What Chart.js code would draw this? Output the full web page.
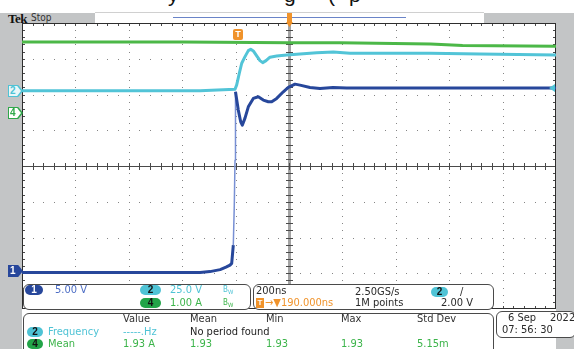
<!DOCTYPE html>
<html>
<head>
<meta charset="utf-8">
<script src="https://cdn.jsdelivr.net/npm/chart.js@4.4.1/dist/chart.umd.min.js"></script>
<style>
  body { margin: 0; background: #fff; }
  #scope { position: relative; width: 574px; height: 349px; overflow: hidden; background: #fff;
    font-family: "Liberation Sans Narrow", "DejaVu Sans Condensed", "Liberation Sans", sans-serif; font-size: 11px; color: #2a2a2a; }
  .abs { position: absolute; white-space: nowrap; line-height: 12px; }
  .panel { position: absolute; background: #c3c5c6; }
  .box { position: absolute; box-sizing: border-box; border: 1px solid #4a4a4a; border-radius: 6px; background: #fff; }
  .pill { position: absolute; height: 10px; border-radius: 5px; font: bold 10px "Liberation Sans", sans-serif;
    line-height: 10px; text-align: center; color: #111; }
  .bw { position: absolute; font-size: 8px; line-height: 8px; }
  .bw sub { font-size: 6px; vertical-align: -2px; }
  .mark { position: absolute; left: 8px; width: 15px; height: 12px; clip-path: polygon(0 0, 68% 0, 100% 50%, 68% 100%, 0 100%); }
  .mark .in { position: absolute; left: 1px; top: 1px; width: 12px; height: 10px; background: #fff;
    clip-path: polygon(0 0, 68% 0, 100% 50%, 68% 100%, 0 100%); font: bold 10px "Liberation Sans", sans-serif;
    line-height: 10px; padding-left: 1px; box-sizing: border-box; }
  .cap { position: absolute; top: -17px; font: 21px "Liberation Sans", sans-serif; color: #111; }
  canvas { position: absolute; left: 0; top: 0; }
</style>
</head>
<body>
<div id="scope">
  <span class="cap" style="left:168px">y</span>
  <span class="cap" style="left:284px">g</span>
  <span class="cap" style="left:328px">(</span>
  <span class="cap" style="left:349px">p</span>

  <div class="panel" style="left:0;top:13px;width:574px;height:10px"></div>
  <div class="panel" style="left:0;top:13px;width:22px;height:336px"></div>
  <div class="panel" style="left:556px;top:13px;width:18px;height:336px"></div>
  <div class="abs" style="left:95px;top:12px;width:389px;height:11px;background:#fff;border-top:1px solid #d0d0d0"></div>
  <div class="abs" style="left:173px;top:17px;width:233px;height:1px;background:#6a84c8"></div>
  <span class="abs" style="left:8px;top:11px;font:bold 13px 'Liberation Serif',serif;color:#111;letter-spacing:-0.5px">Tek</span>
  <span class="abs" style="left:31px;top:12px;font-size:10px;color:#333">Stop</span>

  <canvas id="scopeChart" width="574" height="349"></canvas>

  <div class="mark" id="mark2" style="background:#4fc3d5"><div class="in" style="color:#4fc3d5;background:#eaf7f9">2</div></div>
  <div class="mark" id="mark4" style="background:#2fa84a"><div class="in" style="color:#2fa84a">4</div></div>
  <div class="mark" id="mark1" style="background:#27479b"><div class="in" style="color:#fff;background:#27479b">1</div></div>
  <div class="abs" id="trigMark" style="top:29px;width:10px;height:11px;border-radius:2px;background:#f0932b;color:#fff;font:bold 9px 'Liberation Sans',sans-serif;line-height:11px;text-align:center">T</div>

  <div class="box" style="left:23px;top:284px;width:228px;height:26px"></div>
  <div class="pill" style="left:25px;top:285px;width:18px;background:#27479b;color:#fff">1</div>
  <span class="abs" style="left:55px;top:284px;color:#4b6cc4">5.00 V</span>
  <div class="pill" style="left:140px;top:285px;width:21px;background:#4fc3d5">2</div>
  <span class="abs" style="left:170px;top:284px;color:#4fc3d5">25.0 V</span>
  <span class="bw" style="left:223px;top:286px;color:#4fc3d5">B<sub>W</sub></span>
  <div class="pill" style="left:140px;top:298px;width:21px;background:#22a448">4</div>
  <span class="abs" style="left:170px;top:297px;color:#3cb44a">1.00 A</span>
  <span class="bw" style="left:223px;top:299px;color:#3cb44a">B<sub>W</sub></span>

  <div class="box" style="left:253px;top:284px;width:241px;height:26px"></div>
  <span class="abs" style="left:256px;top:285px">200ns</span>
  <span class="abs" style="left:355px;top:286px">2.50GS/s</span>
  <div class="pill" style="left:431px;top:287px;width:17px;background:#4fc3d5">2</div>
  <span class="abs" style="left:460px;top:286px">/</span>
  <div class="abs" style="left:256px;top:298px;width:8px;height:10px;background:#f0932b;color:#fff;font:bold 8px 'Liberation Sans',sans-serif;line-height:10px;text-align:center">T</div>
  <span class="abs" style="left:265px;top:297px;color:#f0932b">→▼190.000ns</span>
  <span class="abs" style="left:355px;top:297px">1M points</span>
  <span class="abs" style="left:441px;top:297px">2.00 V</span>

  <div class="box" style="left:23px;top:313px;width:471px;height:46px"></div>
  <div id="meas"></div>

  <div class="box" style="left:496px;top:311px;width:80px;height:27px"></div>
  <span class="abs" style="left:508px;top:312px">6 Sep</span>
  <span class="abs" style="left:550px;top:312px">2022</span>
  <span class="abs" style="left:502px;top:324px">07: 56: 30</span>
</div>

<script>
// time in ns relative to screen centre (200 ns/div)
const ch1Time = [-1000, -800, -600, -400, -333, -296, -258, -236, -221, -214.6, -208.6, -204.9, -202.2, -200.4, -189.9, -180.9, -174.9, -164.8, -152.4, -133.7, -115, -96.2, -77.5, -64.8, -46.1, -21.3, -2.6, 22.5, 41.2, 78.6, 116, 164.8, 216, 400, 600, 800, 1000];
const ch1Volts = [-0.18, -0.18, -0.18, -0.18, -0.18, -0.07, 0.21, 0.56, 0.84, 1.08, 3.64, 9.23, 15.5, 25.08, 22.52, 20.88, 20.42, 21.4, 22.98, 24.15, 24.38, 23.92, 23.68, 23.68, 24.15, 25.08, 25.69, 26.15, 26.01, 25.69, 25.55, 25.69, 25.6, 25.6, 25.6, 25.6, 25.6];

const ch2Time = [-1000, -600, -333, -202.2, -195.9, -186.1, -177.1, -164.8, -152.4, -143.4, -133.7, -121, -108.6, -98.5, -86.1, -71.2, -46.1, -8.6, 41.2, 103.7, 166, 228.4, 528, 715, 1000];
const ch2Volts = [0.2, 0.2, 0.2, 1.19, 4.2, 12.38, 19.37, 23.99, 28.18, 29.16, 27.97, 24.48, 21.19, 19.79, 21.19, 23.57, 24.48, 25.17, 25.87, 26.78, 27.27, 26.36, 26.36, 25.87, 25.17];

const ch4Time = [-1000, -400, 0, 190, 530, 650, 1000];
const ch4Amps = [1.99, 1.99, 1.97, 1.97, 1.93, 1.89, 1.87];

const triggerTime = -190;
const triggerLevel = 2.0;

const measHeaders = ["Value", "Mean", "Min", "Max", "Std Dev"];
const freqRow = ["-----.Hz", "No period found"];
const meanRow = ["1.93 A", "1.93", "1.93", "1.93", "5.15m"];

// channel scale: units per division and ground marker position in divisions
const rangeFor = (perDiv, groundDiv) => ({ min: (-4 - groundDiv) * perDiv, max: (4 - groundDiv) * perDiv });
const r1 = rangeFor(5, -2.94);
const r2 = rangeFor(25, 2.1);
const r4 = rangeFor(1, 1.48);

const pts = (xs, ys) => xs.map((x, i) => ({ x: x, y: ys[i] }));

const graticule = {
  id: "graticule",
  beforeDatasetsDraw(chart) {
    const { ctx, chartArea: a, scales } = chart;
    const xs = scales.x, ds = scales.yDiv;
    const xp = (i) => xs.getPixelForValue(-1000 + 40 * i);   // 50 minor steps
    const yp = (j) => ds.getPixelForValue(-4 + 0.2 * j);     // 40 minor steps
    ctx.save();
    ctx.fillStyle = "#858585";
    for (let i = 5; i < 50; i += 5) {
      if (i === 25) continue;
      for (let j = 1; j < 40; j++) ctx.fillRect(Math.round(xp(i)), Math.round(yp(j)), 1, 1);
    }
    for (let j = 5; j < 40; j += 5) {
      if (j === 20) continue;
      for (let i = 1; i < 50; i++) ctx.fillRect(Math.round(xp(i)), Math.round(yp(j)), 1, 1);
    }
    // centre vertical bar
    const cx = Math.round(xp(25));
    ctx.fillStyle = "#a4a4a4";
    ctx.fillRect(cx - 1, a.top, 3, a.bottom - a.top);
    ctx.fillStyle = "#4a4a4a";
    for (let j = 1; j < 40; j++) ctx.fillRect(cx - 3, Math.round(yp(j)), 7, 1);
    // centre horizontal line
    const cy = Math.round(yp(20));
    ctx.fillRect(a.left, cy, a.right - a.left, 1);
    for (let i = 1; i < 50; i++) ctx.fillRect(Math.round(xp(i)), cy - 3, 1, 7);
    // edge ticks
    for (let i = 1; i < 50; i++) {
      ctx.fillRect(Math.round(xp(i)), a.top, 1, 3);
      ctx.fillRect(Math.round(xp(i)), a.bottom - 3, 1, 3);
    }
    for (let j = 1; j < 40; j++) {
      ctx.fillRect(a.left, Math.round(yp(j)), 3, 1);
      ctx.fillRect(a.right - 3, Math.round(yp(j)), 3, 1);
    }
    ctx.strokeStyle = "#2e2e2e";
    ctx.lineWidth = 1;
    ctx.strokeRect(a.left + 0.5, a.top + 0.5, a.right - a.left - 1, a.bottom - a.top - 1);
    ctx.restore();
  },
  afterDraw(chart) {
    const { ctx, chartArea: a, scales } = chart;
    ctx.save();
    // horizontal position marker
    const cx = Math.round(scales.x.getPixelForValue(0));
    ctx.fillStyle = "#f0932b";
    ctx.fillRect(cx - 2, 13, 5, 10);
    ctx.beginPath();
    ctx.moveTo(cx - 3, 22);
    ctx.lineTo(cx + 4, 22);
    ctx.lineTo(cx + 0.5, 27);
    ctx.closePath();
    ctx.fill();
    // trigger level marker on the right edge
    const ty = scales.y2.getPixelForValue(triggerLevel);
    ctx.fillStyle = "#4fc3d5";
    ctx.beginPath();
    ctx.moveTo(a.right - 1, ty - 4);
    ctx.lineTo(a.right - 1, ty + 4);
    ctx.lineTo(a.right - 7, ty);
    ctx.closePath();
    ctx.fill();
    ctx.restore();
  },
};

const steep = (c) => Math.abs(c.p1.parsed.y - c.p0.parsed.y) / Math.max(0.1, c.p1.parsed.x - c.p0.parsed.x) > 1.2;

const chart = new Chart(document.querySelector("#scopeChart"), {
  type: "line",
  data: {
    datasets: [
      {
        data: pts(ch1Time, ch1Volts),
        yAxisID: "y1",
        borderColor: "#27479b",
        borderWidth: 3,
        segment: {
          borderColor: (c) => (steep(c) ? "#7890d4" : undefined),
          borderWidth: (c) => (steep(c) ? 1.5 : undefined),
        },
      },
      { data: pts(ch2Time, ch2Volts), yAxisID: "y2", borderColor: "#52c4d7", borderWidth: 3 },
      { data: pts(ch4Time, ch4Amps), yAxisID: "y4", borderColor: "#4cb848", borderWidth: 3 },
    ],
  },
  options: {
    responsive: false,
    animation: false,
    events: [],
    layout: { padding: { left: 22, right: 18, top: 23, bottom: 40 } },
    plugins: { legend: { display: false }, tooltip: { enabled: false } },
    elements: { point: { radius: 0 }, line: { tension: 0, borderJoinStyle: "round" } },
    scales: {
      x: { type: "linear", min: -1000, max: 1000, display: false },
      yDiv: { axis: "y", type: "linear", min: -4, max: 4, display: false },
      y1: { type: "linear", min: r1.min, max: r1.max, display: false },
      y2: { type: "linear", min: r2.min, max: r2.max, display: false },
      y4: { type: "linear", min: r4.min, max: r4.max, display: false },
    },
  },
  plugins: [graticule],
});

const placeMark = (sel, scaleId) => {
  document.querySelector(sel).style.top = Math.round(chart.scales[scaleId].getPixelForValue(0) - 6) + "px";
};
placeMark("#mark1", "y1");
placeMark("#mark2", "y2");
placeMark("#mark4", "y4");
document.querySelector("#trigMark").style.left = Math.round(chart.scales.x.getPixelForValue(triggerTime) - 5) + "px";

// measurement table
const cols = [123, 190, 266, 341, 417];
let html = "";
measHeaders.forEach((h, i) => {
  html += `<span class="abs" style="left:${cols[i]}px;top:313px;color:#333">${h}</span>`;
});
html += `<div class="pill" style="left:27px;top:327px;width:16px;background:#4fc3d5">2</div>`;
html += `<span class="abs" style="left:48px;top:326px;color:#4fc3d5">Frequency</span>`;
html += `<span class="abs" style="left:${cols[0]}px;top:326px;color:#4fc3d5">${freqRow[0]}</span>`;
html += `<span class="abs" style="left:${cols[1]}px;top:326px;color:#222">${freqRow[1]}</span>`;
html += `<div class="pill" style="left:27px;top:339px;width:16px;background:#22a448">4</div>`;
html += `<span class="abs" style="left:48px;top:338px;color:#3cb44a">Mean</span>`;
meanRow.forEach((v, i) => {
  html += `<span class="abs" style="left:${cols[i]}px;top:338px;color:#3cb44a">${v}</span>`;
});
document.querySelector("#meas").innerHTML = html;
</script>
</body>
</html>
